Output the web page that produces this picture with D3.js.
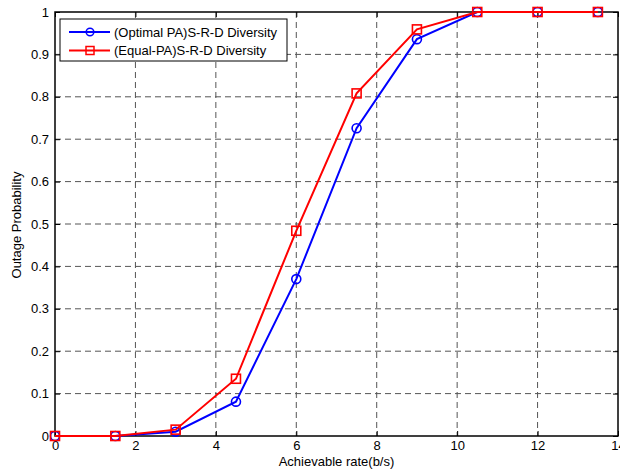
<!DOCTYPE html>
<html><head><meta charset="utf-8">
<script src="https://cdn.jsdelivr.net/npm/d3@7"></script>
<style>body{margin:0;background:#fff}svg{display:block}text{font-family:"Liberation Sans",Arial,sans-serif}</style>
</head><body><svg id="c" width="620" height="472"></svg>
<script>
const rates = [0, 1.5, 3, 4.5, 6, 7.5, 9, 10.5, 12, 13.5];
const optimalPA = [0, 0, 0.01, 0.081, 0.37, 0.726, 0.936, 1, 1, 1];
const equalPA = [0, 0, 0.015, 0.135, 0.484, 0.808, 0.959, 1, 1, 1];
const xTicks = [0, 2, 4, 6, 8, 10, 12, 14];
const yTicks = [0, 0.1, 0.2, 0.3, 0.4, 0.5, 0.6, 0.7, 0.8, 0.9, 1];
const seriesNames = ["(Optimal PA)S-R-D Diversity", "(Equal-PA)S-R-D Diversity"];

const svg = d3.select("#c");
const L = 55, R = 618, T = 12, B = 436;
const FS = 13;
const x = d3.scaleLinear().domain([0, 14]).range([L, R]);
const y = d3.scaleLinear().domain([0, 1]).range([B, T]);

// grid
const g = svg.append("g");
g.selectAll(".gx").data(xTicks.slice(1, -1)).enter().append("line")
  .attr("x1", d => x(d)).attr("x2", d => x(d)).attr("y1", T).attr("y2", B)
  .attr("stroke", "#555").attr("stroke-width", 1).attr("stroke-dasharray", "6,4");
g.selectAll(".gy").data(yTicks.slice(1, -1)).enter().append("line")
  .attr("y1", d => y(d)).attr("y2", d => y(d)).attr("x1", L).attr("x2", R)
  .attr("stroke", "#555").attr("stroke-width", 1).attr("stroke-dasharray", "6,4");

// axes
const fmtY = d => d === 0 ? "0" : d === 1 ? "1" : d3.format(".1f")(d);
const styleText = s => s.selectAll("text").attr("font-size", FS).attr("fill", "#000").attr("font-family", "Liberation Sans, Arial, sans-serif");
svg.append("g").attr("transform", `translate(0,${B})`)
  .call(d3.axisBottom(x).tickValues(xTicks).tickSizeInner(-5).tickSizeOuter(0).tickPadding(5).tickFormat(d3.format("d")))
  .call(s => { s.select(".domain").remove(); styleText(s); s.selectAll("line").attr("stroke", "#000"); });
svg.append("g").attr("transform", `translate(0,${T})`)
  .call(d3.axisTop(x).tickValues(xTicks).tickSizeInner(-5).tickSizeOuter(0).tickFormat(""))
  .call(s => { s.select(".domain").remove(); s.selectAll("line").attr("stroke", "#000"); });
svg.append("g").attr("transform", `translate(${L},0)`)
  .call(d3.axisLeft(y).tickValues(yTicks).tickSizeInner(-5).tickSizeOuter(0).tickPadding(6).tickFormat(fmtY))
  .call(s => { s.select(".domain").remove(); styleText(s); s.selectAll("line").attr("stroke", "#000"); });
svg.append("g").attr("transform", `translate(${R},0)`)
  .call(d3.axisRight(y).tickValues(yTicks).tickSizeInner(-5).tickSizeOuter(0).tickFormat(""))
  .call(s => { s.select(".domain").remove(); s.selectAll("line").attr("stroke", "#000"); });
svg.append("rect").attr("x", L).attr("y", T).attr("width", R - L).attr("height", B - T)
  .attr("fill", "none").attr("stroke", "#000").attr("stroke-width", 1.5);

// series
const line = d3.line().x(d => x(d[0])).y(d => y(d[1]));
const blueData = rates.map((r, i) => [r, optimalPA[i]]);
const redData = rates.map((r, i) => [r, equalPA[i]]);

svg.append("path").datum(blueData).attr("d", line).attr("fill", "none").attr("stroke", "#0000ff").attr("stroke-width", 2);
svg.selectAll(".bm").data(blueData).enter().append("circle")
  .attr("cx", d => x(d[0])).attr("cy", d => y(d[1])).attr("r", 4.5)
  .attr("fill", "none").attr("stroke", "#0000ff").attr("stroke-width", 1.6);
svg.append("path").datum(redData).attr("d", line).attr("fill", "none").attr("stroke", "#ff0000").attr("stroke-width", 2);
svg.selectAll(".rm").data(redData).enter().append("rect")
  .attr("x", d => x(d[0]) - 4.5).attr("y", d => y(d[1]) - 4.5).attr("width", 9).attr("height", 9)
  .attr("fill", "none").attr("stroke", "#ff0000").attr("stroke-width", 1.6);

// legend
const lg = svg.append("g");
lg.append("rect").attr("x", 60).attr("y", 19).attr("width", 227).attr("height", 42)
  .attr("fill", "#fff").attr("stroke", "#000").attr("stroke-width", 1);
const colors = ["#0000ff", "#ff0000"];
seriesNames.forEach((n, i) => {
  const yy = 32 + i * 18.5;
  lg.append("line").attr("x1", 69).attr("x2", 110).attr("y1", yy).attr("y2", yy).attr("stroke", colors[i]).attr("stroke-width", 2);
  if (i === 0) lg.append("circle").attr("cx", 90).attr("cy", yy).attr("r", 3.8).attr("fill", "none").attr("stroke", colors[i]).attr("stroke-width", 1.5);
  else lg.append("rect").attr("x", 86).attr("y", yy - 4).attr("width", 8).attr("height", 8).attr("fill", "none").attr("stroke", colors[i]).attr("stroke-width", 1.5);
  lg.append("text").attr("x", 114).attr("y", yy + 4.5).attr("font-size", FS).text(n);
});

// axis labels
svg.append("text").attr("x", (L + R) / 2).attr("y", 466).attr("text-anchor", "middle").attr("font-size", FS).text("Achievable rate(b/s)");
svg.append("text").attr("transform", "translate(21,225) rotate(-90)").attr("text-anchor", "middle").attr("font-size", FS).text("Outage Probability");
</script></body></html>
